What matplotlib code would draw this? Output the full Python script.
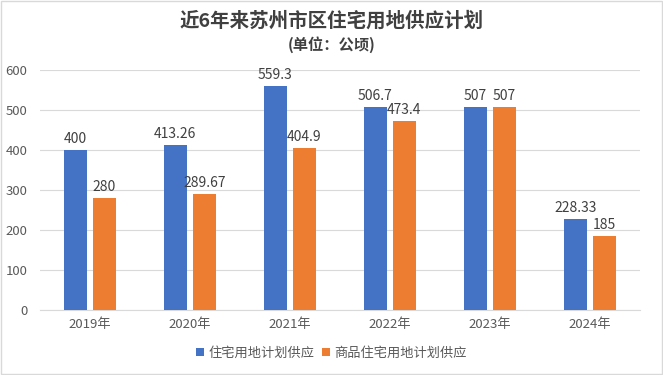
import numpy as np
import matplotlib
matplotlib.use("Agg")
import matplotlib.pyplot as plt

plt.rcParams['font.family'] = ['Noto Sans CJK SC', 'DejaVu Sans']

years = ['2019年', '2020年', '2021年', '2022年', '2023年', '2024年']
residential = [400, 413.26, 559.3, 506.7, 507, 228.33]
commercial = [280, 289.67, 404.9, 473.4, 507, 185]
residentialLabels = ['400', '413.26', '559.3', '506.7', '507', '228.33']
commercialLabels = ['280', '289.67', '404.9', '473.4', '507', '185']

blue = '#4472C4'
orange = '#ED7D31'
textColor = '#595959'

fig = plt.figure(figsize=(6.63, 3.75), dpi=100)
ax = fig.add_axes([0.06, 0.173, 0.905, 0.64])

x = np.arange(len(years))
width = 0.23
offset = 0.145
barsA = ax.bar(x - offset, residential, width, color=blue, label='住宅用地计划供应', zorder=3)
barsB = ax.bar(x + offset, commercial, width, color=orange, label='商品住宅用地计划供应', zorder=3)

for bar, txt in zip(barsA, residentialLabels):
    ax.text(bar.get_x() + bar.get_width() / 2, bar.get_height() + 10, txt,
            ha='center', va='bottom', fontsize=10, color='#404040')
for bar, txt in zip(barsB, commercialLabels):
    ax.text(bar.get_x() + bar.get_width() / 2, bar.get_height() + 10, txt,
            ha='center', va='bottom', fontsize=10, color='#404040')

ax.set_xlim(-0.5, len(years) - 0.5)
ax.set_ylim(0, 600)
ax.set_yticks(range(0, 601, 100))
ax.set_xticks(x)
ax.set_xticklabels(years)
ax.tick_params(axis='both', length=0, labelsize=9.5, colors=textColor)
ax.tick_params(axis='y', pad=9)
ax.tick_params(axis='x', pad=6)
ax.grid(axis='y', color='#D9D9D9', linewidth=0.8, zorder=0)
for side in ['top', 'right', 'left']:
    ax.spines[side].set_visible(False)
ax.spines['bottom'].set_color('#D9D9D9')

fig.text(0.5, 0.945, '近6年来苏州市区住宅用地供应计划', ha='center', va='center',
         fontsize=14, fontweight='bold', color='#404040')
fig.text(0.5, 0.88, '(单位：公顷)', ha='center', va='center',
         fontsize=11, fontweight='bold', color='#404040')

fig.legend(loc='center', bbox_to_anchor=(0.5, 0.058), ncol=2, frameon=False,
           fontsize=9.5, handlelength=0.6, handleheight=0.6, handletextpad=0.3,
           columnspacing=0.6, labelcolor=textColor)

fig.patches.append(plt.Rectangle((0.002, 0.003), 0.996, 0.994, transform=fig.transFigure,
                                 fill=False, edgecolor='#D9D9D9', linewidth=1))

fig.savefig('out.png', dpi=100)
